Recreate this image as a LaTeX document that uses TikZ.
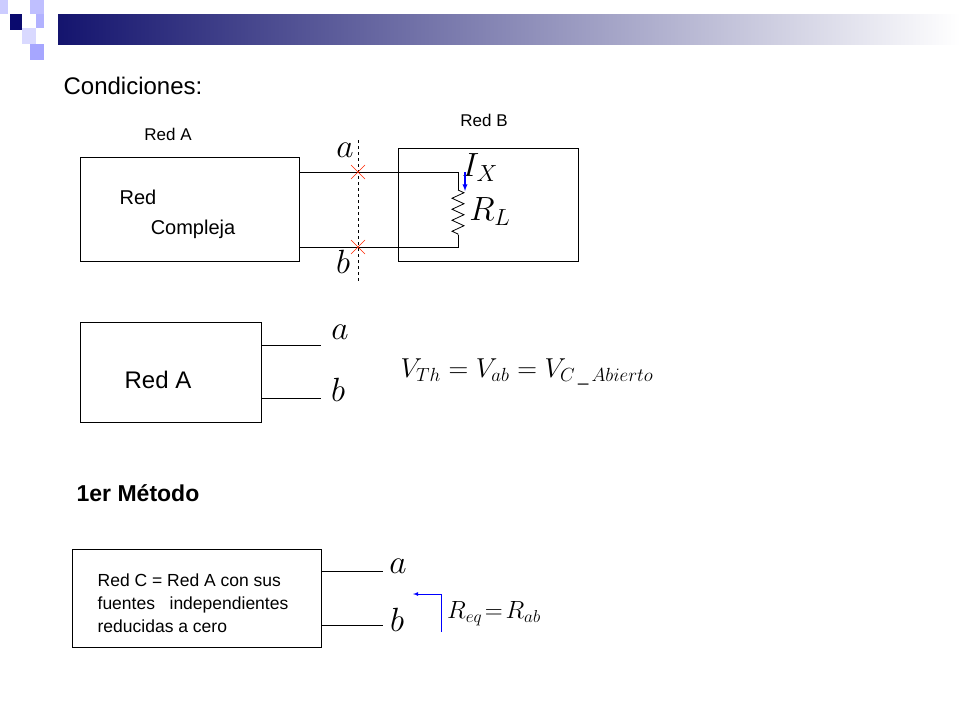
\documentclass[tikz,border=0pt]{standalone}
\usepackage{fontspec}
\setmainfont{Liberation Sans}
\usepackage{amsmath}
\usetikzlibrary{decorations.pathmorphing}
\definecolor{navy}{RGB}{20,20,110}
\definecolor{darknavy}{RGB}{10,10,110}
\tikzset{
  box/.style={draw, line width=.8pt},
  wire/.style={line width=.8pt},
  cross/.style={draw=red!70!orange, line width=.6pt},
  lbl/.style={font=\fontsize{17}{20}\selectfont},
  term/.style={font=\fontsize{24}{28}\selectfont, scale=1.35},
}
\begin{document}
\begin{tikzpicture}[x=1pt, y=-1pt]
  \useasboundingbox (0,0) rectangle (960,720);
  % header
  \shade[left color=navy, right color=white] (58,14) rectangle (960,44);
  \fill[blue!20] (0,0) rectangle (8,14);
  \fill[blue!25] (30,0) rectangle (44,14);
  \fill[darknavy] (10,14) rectangle (22,30);
  \fill[blue!30] (36,14) rectangle (44,28);
  \fill[blue!15] (22,28) rectangle (36,44);
  \fill[blue!35] (30,44) rectangle (44,60);
  \node[font=\fontsize{24}{28}\selectfont] (cond) at (133,86) {Condiciones:};

  % top circuit
  \node[box, minimum width=219, minimum height=104] (redA) at (189.5,209) {};
  \node[box, minimum width=180, minimum height=113] (redB) at (488,204.5) {};
  \node[lbl] (tA) at (168,134) {Red A};
  \node[lbl] (tB) at (484,120) {Red B};
  \node[font=\fontsize{20}{24}\selectfont] (t1) at (138,197) {Red};
  \node[font=\fontsize{20}{24}\selectfont] (t2) at (193,229) {Compleja};
  \coordinate (ta) at (299,172);
  \coordinate (tb) at (299,247);
  \coordinate (ra) at (458,190);
  \coordinate (rb) at (458,235);
  \draw[wire] (ta) -| (ra);
  \draw[wire] (tb) -| (rb);
  \draw[wire, decorate, decoration={zigzag, amplitude=6pt, segment length=11pt}] (ra) -- (rb);
  \draw[dashed, line width=.7pt] (358,140) -- (358,282);
  \foreach \y in {172,247}
    \draw[cross] (351,\y-7) -- (365,\y+7) (351,\y+7) -- (365,\y-7);
  \node[term] (la) at (345,150) {$a$};
  \node[term] (lb) at (343,262) {$b$};
  \node[term] (ix) at (480,168) {$I_{\scriptstyle X}$};
  \node[term] (rl) at (490,212) {$R_L$};
  \draw[blue, line width=1.3pt, -latex] (465,172) -- (465,191);

  % second
  \node[box, minimum width=181, minimum height=100] (redA2) at (170.5,372) {};
  \node[font=\fontsize{24}{28}\selectfont] (t3) at (158,380) {Red A};
  \draw[wire] (261,345) -- (321,345);
  \draw[wire] (261,398) -- (321,398);
  \node[term] (la2) at (340,332) {$a$};
  \node[term] (lb2) at (338,390) {$b$};
  \node[font=\fontsize{24}{28}\selectfont, scale=1.1] (vth) at (527,372) {$V_{\mathnormal{Th}}=V_{ab}=V_{C\,\_\,\mathnormal{Abierto}}$};

  \node[font=\bfseries\fontsize{23}{28}\selectfont] (met) at (138,493) {1er Método};

  % third
  \node[box, minimum width=249, minimum height=98] (redC) at (196.5,598) {};
  \node[align=left, font=\fontsize{17.5}{23}\selectfont] (tC) at (193,603) {Red C = Red A con sus\\fuentes~~ independientes\\reducidas a cero};
  \draw[wire] (321,571) -- (383,571);
  \draw[wire] (321,625) -- (383,625);
  \node[term] (la3) at (398,566) {$a$};
  \node[term] (lb3) at (397,620) {$b$};
  \node[font=\fontsize{24}{28}\selectfont, scale=1.0] (req) at (494,614) {$R_{eq}\!=\!R_{ab}$};
  \coordinate (p0) at (441,632);
  \coordinate (p1) at (413,594);
  \draw[blue, line width=.8pt, -latex] (p0) |- (p1);
\end{tikzpicture}
\end{document}
